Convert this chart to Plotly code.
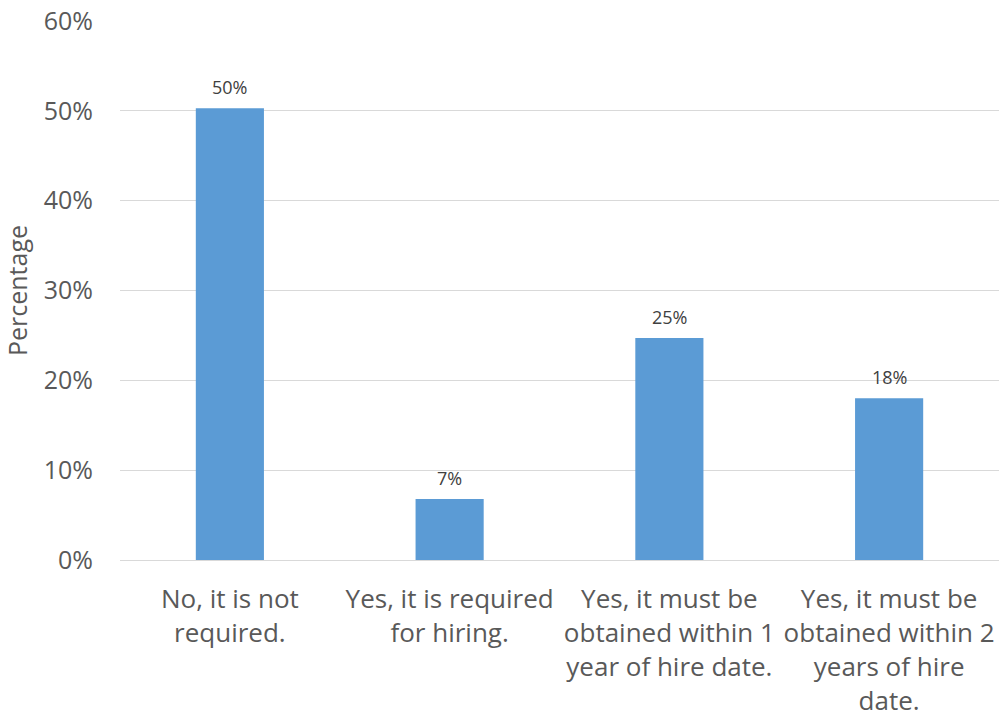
import plotly.graph_objects as go

# Survey responses: share of respondents per answer
categories = [
    "No, it is not<br>required.",
    "Yes, it is required<br>for hiring.",
    "Yes, it must be<br>obtained within 1<br>year of hire date.",
    "Yes, it must be<br>obtained within 2<br>years of hire<br>date.",
]
shares = [0.503, 0.068, 0.247, 0.180]
y_ticks = [0, 0.1, 0.2, 0.3, 0.4, 0.5, 0.6]
y_tick_labels = ["0%", "10%", "20%", "30%", "40%", "50%", "60%"]

FONT = "Open Sans"
AXIS_GREY = "#595959"

x_pos = list(range(len(categories)))

fig = go.Figure(
    go.Bar(
        x=x_pos,
        y=shares,
        width=0.31,
        marker=dict(color="#5B9BD5", line=dict(width=0)),
        hovertemplate="%{y:.0%}<extra></extra>",
    )
)

# Value labels above each bar
for xi, v in zip(x_pos, shares):
    fig.add_annotation(
        x=xi,
        y=v,
        text=f"{v:.0%}",
        showarrow=False,
        yanchor="bottom",
        yshift=7,
        font=dict(family=FONT, size=18, color="#404040"),
    )

fig.update_layout(
    width=999,
    height=721,
    margin=dict(l=120, r=0, t=21, b=161),
    paper_bgcolor="white",
    plot_bgcolor="white",
    showlegend=False,
    font=dict(family=FONT, color=AXIS_GREY),
)

fig.update_xaxes(
    tickmode="array",
    tickvals=x_pos,
    ticktext=categories,
    tickfont=dict(family=FONT, size=26, color=AXIS_GREY),
    ticklabelstandoff=16,
    range=[-0.5, len(categories) - 0.5],
    showgrid=False,
    showline=True,
    linecolor="#D9D9D9",
    linewidth=1,
    ticks="",
    tickangle=0,
)

fig.update_yaxes(
    range=[0, 0.6],
    tickmode="array",
    tickvals=y_ticks,
    ticktext=y_tick_labels,
    tickfont=dict(family=FONT, size=25, color=AXIS_GREY),
    ticklabelstandoff=26,
    showgrid=True,
    gridcolor="#D9D9D9",
    gridwidth=1,
    zeroline=False,
    title=dict(text="Percentage", font=dict(family=FONT, size=25, color=AXIS_GREY), standoff=14),
)

fig.write_html("out.html")
